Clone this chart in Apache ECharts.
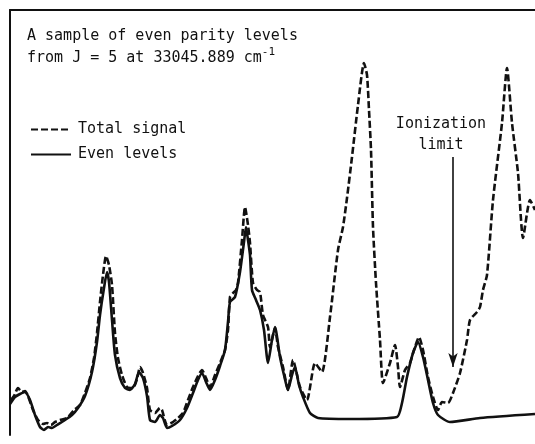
<!DOCTYPE html>
<html>
<head>
<meta charset="utf-8">
<script src="https://cdn.jsdelivr.net/npm/echarts@6/dist/echarts.min.js"></script>
<style>
  html, body { margin: 0; padding: 0; background: #fff; }
  #chart { width: 535px; height: 444px; }
</style>
</head>
<body>
<div id="chart"></div>
<script>
// Photon energy scale (arbitrary units across the scan)
const totalX = [0.2, 0.8, 1.6, 2.4, 3.0, 3.6, 4.6, 5.6, 6.6, 7.4, 8.2, 9.0, 10.0, 11.4, 12.8, 14, 15, 16, 16.8, 17.4,
  18, 18.6, 19.2, 19.8, 20.4, 21, 21.6, 22.4, 23.4, 24.6, 25.4, 26, 26.6, 27.4, 28, 29, 30, 30.4, 31.4, 32.6,
  33.6, 34.6, 35.6, 36.6, 37.6, 38.4, 39.2, 40, 41, 42, 43, 43.6, 44, 44.6, 45.2, 45.6, 46.4, 47, 47.6, 48,
  48.6, 49.4, 50, 50.6, 51.6, 52, 53, 53.6, 54.6, 55.6, 56.6, 58, 59.4, 61, 62.4, 64, 65.6, 66.6, 67.4, 68.4,
  69.6, 70.8, 71.4, 71.8, 72.2, 72.6, 73.2, 74, 74.6, 76, 77, 77.6, 78, 79, 80, 80.8, 81.8, 82.6, 83.6, 84.6,
  85.6, 86.4, 87.6, 88.6, 90, 91.4, 92, 93.4, 94, 94.6, 95.4, 96.6, 98.4, 99.4, 100.4, 101.6, 102.6, 104, 105];
// Total ion signal (arbitrary units)
const totalY = [7, 7.8, 9.4, 8.6, 8.8, 7.8, 5, 3, 2.2, 2.4, 2, 2.6, 3, 3.4, 5, 6, 8.4, 11.4, 15.4, 20.4,
  26.6, 32, 35.8, 34, 30, 20.4, 15.4, 12, 9.6, 9.4, 11.2, 13.6, 12.4, 9.4, 5, 4.4, 5.4, 5, 2, 2.6,
  3.4, 4.4, 7, 9.6, 11.8, 13, 11.4, 9.6, 12, 14.4, 17, 21, 27.6, 28.4, 29, 30.4, 39, 45.6, 42, 38.4,
  30.4, 29, 28.6, 24, 21.6, 17.6, 21.4, 17.6, 13.6, 9, 15, 9.6, 7, 14.4, 12.6, 23.6, 37, 41.6, 47.4, 55.6,
  66, 74.4, 72, 65, 57, 41.6, 30.4, 19, 10.4, 14.4, 18, 13.6, 9.6, 13, 14.4, 17, 19.6, 17, 11.6, 7.6,
  5, 6.6, 6.4, 8.4, 12.4, 19, 23, 24.6, 25.6, 29, 32, 47, 62.4, 73.4, 62.4, 52.4, 39.4, 47, 45];

const evenX = [0, 1, 2, 3, 4, 5, 6, 6.8, 7.6, 8.4, 9.4, 11, 12.4, 13.6, 15, 16.4, 17.4, 18, 18.8, 19.4,
  19.8, 20.4, 21, 22, 23, 24, 25, 25.8, 26.6, 27.4, 28, 29, 30, 30.6, 31.4, 32.4, 34, 35.4, 36.6, 37.6,
  38.4, 39.2, 40, 41, 42, 43, 43.6, 44, 45, 46, 46.8, 47.2, 47.6, 48, 48.4, 49.2, 50, 50.8, 51.6, 52.4,
  53, 54, 54.8, 55.6, 56.4, 57, 57.8, 58.6, 60, 61.6, 68, 77.4, 78.4, 79.4, 80.6, 81.6, 82.6, 83.6, 84.6,
  85.6, 88, 94, 105];
// Even-parity levels only (arbitrary units)
const evenY = [6.2, 7.6, 8.2, 8.6, 7, 4, 1.6, 1, 1.6, 1.4, 2, 3, 4, 5.4, 7.8, 12.6, 18.6, 24, 29.4, 32.6,
  30.6, 23, 16, 11.4, 9.4, 9, 10.2, 12.6, 11.4, 7.8, 3, 2.6, 4, 3.4, 1.4, 1.8, 3, 5.4, 8.4, 11,
  12.4, 10.6, 9, 11, 13.8, 17, 22.6, 26.6, 27.6, 32.6, 38.6, 41.6, 39, 36, 29, 27, 25, 21, 14.4, 19,
  21.6, 15.6, 12, 9, 12, 13.6, 10, 7.6, 4.4, 3.4, 3.2, 3.6, 6.4, 11.6, 16.4, 18.6, 15.6, 11, 6.4,
  4, 2.6, 3.4, 4.2];

// Ionization limit marker: position and extent of the arrow
const limitX = 88.6;
const limitFrom = 55.6;
const limitTo = 13.6;

const seriesNames = ['Total signal', 'Even levels'];
const titleLines = ['A sample of even parity levels', 'from J = 5 at 33045.889 cm'];
const limitLabel = ['Ionization', 'limit'];

const FONT = '"DejaVu Sans Mono", "Liberation Mono", monospace';
const zip = (xs, ys) => xs.map((x, i) => [x, ys[i]]);

const chart = echarts.init(document.getElementById('chart'), null, { renderer: 'canvas' });

chart.setOption({
  backgroundColor: '#ffffff',
  animation: false,
  title: {
    left: 22,
    top: 20,
    text: titleLines[0] + '\n' + titleLines[1] + '{sup|-1}',
    textStyle: {
      fontFamily: FONT,
      fontSize: 15,
      fontWeight: 'normal',
      color: '#111',
      lineHeight: 22,
      rich: {
        sup: { fontFamily: FONT, fontSize: 11, color: '#111', verticalAlign: 'top', lineHeight: 14, padding: [0, 0, 10, 0] }
      }
    }
  },
  legend: {
    orient: 'vertical',
    left: 25,
    top: 117,
    itemWidth: 40,
    itemHeight: 14,
    itemGap: 10,
    data: seriesNames,
    itemStyle: { color: 'rgba(0,0,0,0)', borderWidth: 0, opacity: 0 },
    textStyle: { fontFamily: FONT, fontSize: 15, color: '#111', padding: [0, 0, 0, 2] }
  },
  grid: { left: 10, right: 0, top: 10, bottom: 9 },
  xAxis: {
    type: 'value',
    position: 'top',
    min: 0,
    max: 105,
    axisLine: { show: true, onZero: false, lineStyle: { color: '#111', width: 2 } },
    axisTick: { show: false },
    axisLabel: { show: false },
    splitLine: { show: false }
  },
  yAxis: {
    type: 'value',
    min: 0,
    max: 85,
    axisLine: { show: true, onZero: false, lineStyle: { color: '#111', width: 2 } },
    axisTick: { show: false },
    axisLabel: { show: false },
    splitLine: { show: false }
  },
  graphic: [{
    type: 'text',
    x: 441,
    y: 114,
    style: {
      text: limitLabel.join('\n'),
      font: '15px ' + FONT,
      fill: '#111',
      align: 'center',
      verticalAlign: 'top',
      lineHeight: 21
    }
  }],
  series: [
    {
      name: seriesNames[1],
      type: 'line',
      data: zip(evenX, evenY),
      symbol: 'none',
      smooth: 0.2,
      lineStyle: { color: '#111', width: 2.6 },
      itemStyle: { color: '#111' },
      z: 2
    },
    {
      name: seriesNames[0],
      type: 'line',
      data: zip(totalX, totalY),
      symbol: 'none',
      smooth: 0.2,
      lineStyle: { color: '#111', width: 2.6, type: [7, 3] },
      itemStyle: { color: '#111' },
      z: 3,
      markLine: {
        silent: true,
        symbol: ['none', 'arrow'],
        symbolSize: [7, 14],
        label: { show: false },
        lineStyle: { color: '#111', width: 1.6, type: 'solid' },
        data: [[{ coord: [limitX, limitFrom] }, { coord: [limitX, limitTo] }]]
      }
    }
  ]
});
</script>
</body>
</html>
